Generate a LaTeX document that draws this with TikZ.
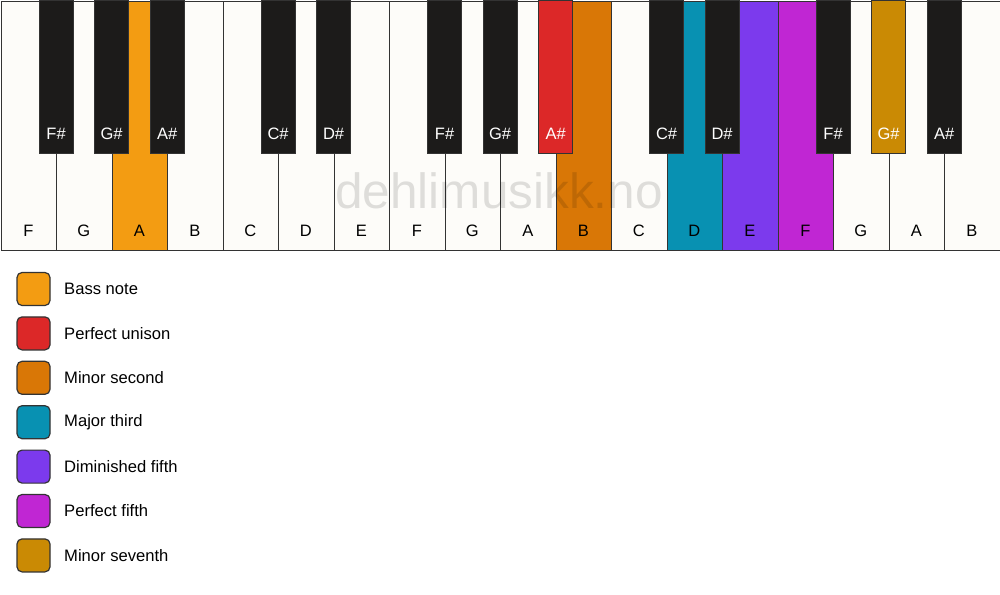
\documentclass[tikz,border=0pt]{standalone}
\usepackage{fontspec}
\setmainfont{Liberation Sans}
\begin{document}
\begin{tikzpicture}[x=1pt,y=-1pt,
  wkey/.style={draw=keyline,line width=1.2pt,fill=ivory},
  bkey/.style={draw=keyline,line width=1.2pt,fill=keyblack},
  wlabel/.style={font=\fontsize{16.5}{19}\selectfont,text=black,anchor=base},
  blabel/.style={font=\fontsize{16.5}{19}\selectfont,text=white,anchor=base},
  legbox/.style={draw=keyline,line width=1.2pt,rounded corners=5pt,minimum width=33pt,minimum height=33pt,inner sep=0pt},
  legtext/.style={font=\fontsize{16.6}{19}\selectfont,anchor=west,inner sep=0pt}]
\definecolor{ivory}{HTML}{FDFCF9}
\definecolor{keyblack}{HTML}{1C1B1A}
\definecolor{keyline}{HTML}{333333}
\definecolor{cbass}{HTML}{F39C12}
\definecolor{cuni}{HTML}{DC2828}
\definecolor{csec}{HTML}{D97706}
\definecolor{cthird}{HTML}{0891B2}
\definecolor{cdim}{HTML}{7C3AED}
\definecolor{cfifth}{HTML}{C026D3}
\definecolor{cseventh}{HTML}{CA8A04}
\useasboundingbox (0,0) rectangle (1000,594);
\fill[white] (0,0) rectangle (1000,594);
\def\w{55.5}
% white keys
\foreach \n/\c [count=\i from 0] in {F/ivory,G/ivory,A/cbass,B/ivory,C/ivory,D/ivory,E/ivory,F/ivory,G/ivory,A/ivory,B/csec,C/ivory,D/cthird,E/cdim,F/cfifth,G/ivory,A/ivory,B/ivory}{
  \node[wkey,fill=\c,minimum width=\w pt,minimum height=249pt,inner sep=0pt,anchor=north west] (w\i) at ({\i*\w+0.6},0.6) {};
  \node[wlabel] (wl\i) at ({(\i+0.5)*\w+0.6},236) {\n};
}
% watermark
\node[font=\fontsize{49.5}{52}\selectfont,text=black,text opacity=0.12,anchor=base] (wm) at (499,208) {dehlimusikk.no};
% black keys
\foreach \b/\n/\c in {1/F\#/keyblack,2/G\#/keyblack,3/A\#/keyblack,5/C\#/keyblack,6/D\#/keyblack,8/F\#/keyblack,9/G\#/keyblack,10/A\#/cuni,12/C\#/keyblack,13/D\#/keyblack,15/F\#/keyblack,16/G\#/cseventh,17/A\#/keyblack}{
  \node[bkey,fill=\c,minimum width=34pt,minimum height=153pt,inner sep=0pt,anchor=north] (b\b) at ({\b*\w+0.6},0) {};
  \node[blabel] (bl\b) at ({\b*\w+0.6},139) {\n};
}
% legend
\foreach \c/\t [count=\i from 0] in {cbass/Bass note,cuni/Perfect unison,csec/Minor second,cthird/Major third,cdim/Diminished fifth,cfifth/Perfect fifth,cseventh/Minor seventh}{
  \node[legbox,fill=\c] (lb\i) at (33.5,{289+44.4*\i}) {};
  \node[legtext] (lt\i) at (64,{289+44.4*\i}) {\t};
}
\end{tikzpicture}
\end{document}
